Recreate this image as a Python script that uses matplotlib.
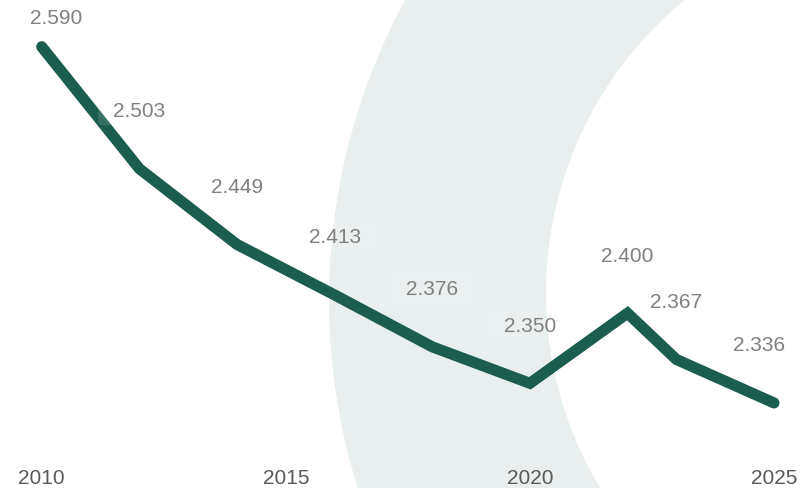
import matplotlib
matplotlib.use("Agg")
import matplotlib.pyplot as plt
from matplotlib.patches import Circle, FancyBboxPatch
from matplotlib.transforms import IdentityTransform

# data
years = [2010, 2012, 2014, 2016, 2018, 2020, 2022, 2023, 2025]
values = [2.590, 2.503, 2.449, 2.413, 2.376, 2.350, 2.400, 2.367, 2.336]
tick_years = [2010, 2015, 2020, 2025]

W, H = 801, 488
plt.rcParams['font.family'] = ['Liberation Sans', 'DejaVu Sans']
fig = plt.figure(figsize=(W / 100, H / 100), dpi=100)

# background ring (decoration), in pixel space
bg = fig.add_axes([0, 0, 1, 1])
bg.set_xlim(0, W)
bg.set_ylim(H, 0)
bg.axis('off')
bg.add_patch(Circle((958, 300), 629, color='#E8EFEE', lw=0))
bg.add_patch(Circle((925, 293), 379, color='white', lw=0))

# main axes, scaled so the first point sits at the same pixel as the original
bottom_px = 460
x0_px, px_per_year = 41.7, 48.82
y0_px, px_per_unit = 46.7, 1402.5
ax = fig.add_axes([0, (H - bottom_px) / H, 1, bottom_px / H])
ax.patch.set_alpha(0)
ax.set_xlim(years[0] - x0_px / px_per_year, years[0] + (W - x0_px) / px_per_year)
ax.set_ylim(values[0] - (bottom_px - y0_px) / px_per_unit, values[0] + y0_px / px_per_unit)

ax.plot(years, values, color='#1B5E4F', lw=8,
        solid_capstyle='round', solid_joinstyle='miter')

for s in ax.spines.values():
    s.set_visible(False)
ax.set_yticks([])
ax.set_xticks(tick_years)
ax.set_xticklabels([str(y) for y in tick_years])
ax.tick_params(axis='x', length=0, pad=6.5, labelsize=15, labelcolor='#595959')

# value labels above points, kept inside the figure
fig.canvas.draw()
renderer = fig.canvas.get_renderer()
for x, v in zip(years, values):
    px, py = ax.transData.transform((x, v))
    cy_top = max(H - py - 59, 16)
    t = fig.text(0, 0, f'{v:.3f}', transform=IdentityTransform(), fontsize=15,
                 color='#808080', ha='center', va='baseline', zorder=3)
    w = t.get_window_extent(renderer).width
    cx = min(max(px, 30 + w / 2), W - 16 - w / 2)
    t.set_position((cx, H - (cy_top + 7.5)))
    # faint white backing box, as in the original
    box = FancyBboxPatch((cx - w / 2 - 15, H - cy_top - 15.5), w + 30, 31,
                         boxstyle='round,pad=0,rounding_size=5',
                         transform=IdentityTransform(), fc='white', ec='none',
                         alpha=0.12, zorder=2)
    fig.add_artist(box)

fig.savefig('out.png', dpi=100)
